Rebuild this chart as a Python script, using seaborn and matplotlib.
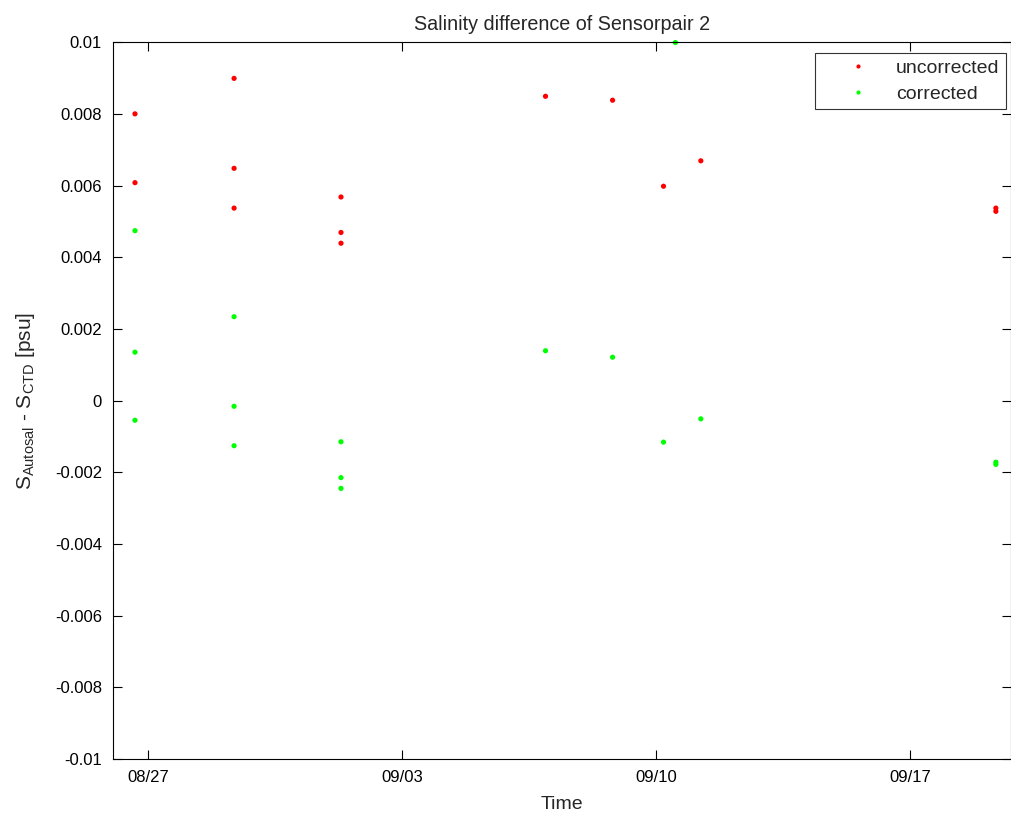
import pandas as pd
import seaborn as sns
import matplotlib.pyplot as plt
from matplotlib.ticker import FuncFormatter

# sample times and salinity differences [psu]
uncorr_time = ['2011-08-26 15:30', '2011-08-26 15:30',
               '2011-08-29 09:00', '2011-08-29 09:00', '2011-08-29 09:00',
               '2011-09-01 07:40', '2011-09-01 07:40', '2011-09-01 07:40',
               '2011-09-06 22:50', '2011-09-08 19:10', '2011-09-10 04:50',
               '2011-09-11 05:30', '2011-09-19 08:30', '2011-09-19 08:30']
uncorr_val = [0.0080, 0.00608,
              0.00899, 0.00648, 0.00537,
              0.00568, 0.00469, 0.00439,
              0.00849, 0.00838, 0.00598,
              0.00669, 0.00537, 0.00528]

corr_time = ['2011-08-26 15:30', '2011-08-26 15:30', '2011-08-26 15:30',
             '2011-08-29 09:00', '2011-08-29 09:00', '2011-08-29 09:00',
             '2011-09-01 07:40', '2011-09-01 07:40', '2011-09-01 07:40',
             '2011-09-06 22:50', '2011-09-08 19:10', '2011-09-10 04:50',
             '2011-09-10 12:40', '2011-09-11 05:30',
             '2011-09-19 08:30', '2011-09-19 08:30']
corr_val = [0.00474, 0.00135, -0.00055,
            0.00234, -0.00016, -0.00126,
            -0.00115, -0.00215, -0.00245,
            0.00139, 0.00121, -0.00116,
            0.00999, -0.00051,
            -0.00172, -0.00178]

xtick_dates = ['2011-08-27', '2011-09-03', '2011-09-10', '2011-09-17']
xtick_labels = ['08/27', '09/03', '09/10', '09/17']
yticks = [-0.01, -0.008, -0.006, -0.004, -0.002, 0, 0.002, 0.004, 0.006, 0.008, 0.01]

df = pd.concat([
    pd.DataFrame({'time': pd.to_datetime(uncorr_time), 'dS': uncorr_val, 'kind': 'uncorrected'}),
    pd.DataFrame({'time': pd.to_datetime(corr_time), 'dS': corr_val, 'kind': 'corrected'}),
], ignore_index=True)

sns.set_style('ticks')
plt.rcParams['font.family'] = ['Liberation Sans', 'DejaVu Sans']
plt.rcParams['mathtext.fontset'] = 'custom'
plt.rcParams['mathtext.rm'] = 'Liberation Sans'
plt.rcParams['mathtext.it'] = 'Liberation Sans'

fig = plt.figure(figsize=(10.12, 8.14), dpi=100)
ax = fig.add_axes([0.1117, 0.0676, 0.8873, 0.8806])

sns.scatterplot(data=df, x='time', y='dS', hue='kind',
                palette={'uncorrected': '#ff0000', 'corrected': '#00ff00'},
                s=14, linewidth=0, ax=ax, clip_on=False)

ax.set_xlim(pd.Timestamp('2011-08-26 01:00'), pd.Timestamp('2011-09-19 18:30'))
ax.set_ylim(-0.01, 0.01)
ax.set_xticks(pd.to_datetime(xtick_dates))
ax.set_xticklabels(xtick_labels)
ax.set_yticks(yticks)
ax.yaxis.set_major_formatter(FuncFormatter(lambda v, p: '{:g}'.format(round(v, 4))))

ax.tick_params(direction='in', length=6.5, width=0.8, labelsize=12, pad=8, colors='black',
               top=True, right=True)
for sp in ax.spines.values():
    sp.set_visible(True)
    sp.set_linewidth(0.8)
    sp.set_color('black')

ax.set_title('Salinity difference of Sensorpair 2', fontsize=14.2, pad=9)
ax.set_xlabel('Time', fontsize=14, labelpad=8)
ax.set_ylabel(r'S$_{\mathrm{Autosal}}$ - S$_{\mathrm{CTD}}$ [psu]', fontsize=15, labelpad=13)

leg = ax.legend(loc='upper right', bbox_to_anchor=(0.9944, 0.985), borderaxespad=0,
                frameon=True, fancybox=False, fontsize=14, markerscale=0.8,
                handlelength=3.8, handletextpad=0.05, borderpad=0.33, labelspacing=0.42)
leg.get_frame().set_edgecolor('black')
leg.get_frame().set_linewidth(0.8)

fig.savefig('out.png', dpi=100, facecolor='white')
